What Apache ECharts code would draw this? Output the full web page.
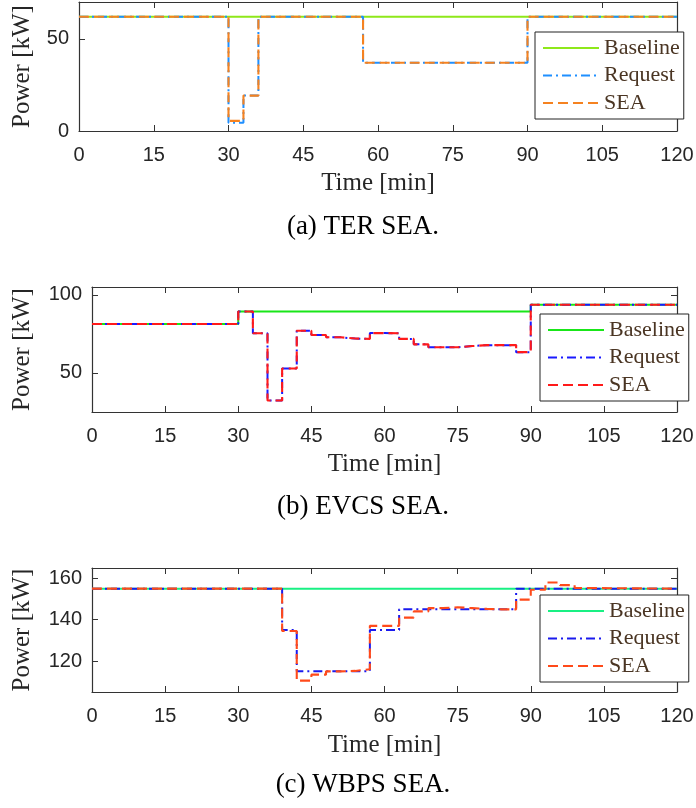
<!DOCTYPE html>
<html><head><meta charset="utf-8">
<script src="https://cdn.jsdelivr.net/npm/echarts@6/dist/echarts.min.js"></script>
<style>html,body{margin:0;padding:0;background:#fff}#c{width:696px;height:808px}</style>
</head><body><div id="c"></div>
<script>
// ---- data ----
const xTicks = [0, 15, 30, 45, 60, 75, 90, 105, 120];
const seriesNames = ['Baseline', 'Request', 'SEA'];
const captions = ['(a) TER SEA.', '(b) EVCS SEA.', '(c) WBPS SEA.'];
const xTitle = 'Time [min]';
const yTitle = 'Power [kW]';

// (a) TER
const timeA = [0, 30, 33, 36, 57, 90, 120];
const baseA = [62, 62, 62, 62, 62, 62, 62];
const reqA  = [62, 4.5, 19.2, 62, 37, 62, 62];
const seaA  = [62, 5.5, 19.2, 62, 37, 62, 62];
const yTicksA = [0, 50];
const yRangeA = [0, 70];

// (b) EVCS
const timeB = [0, 30, 33, 36, 39, 42, 45, 48, 51, 54, 57, 60, 63, 66, 69, 72, 75, 78, 81, 84, 87, 90, 120];
const baseB = [81.3, 89.3, 89.3, 89.3, 89.3, 89.3, 89.3, 89.3, 89.3, 89.3, 89.3, 89.3, 89.3, 89.3, 89.3, 89.3, 89.3, 89.3, 89.3, 89.3, 89.3, 93.6, 93.6];
const reqB  = [81.3, 89.3, 75.4, 32.4, 52.8, 77.0, 74.3, 72.8, 72.0, 71.8, 75.5, 75.4, 71.8, 68.3, 66.4, 66.4, 67.2, 67.8, 67.8, 67.8, 63.3, 93.6, 93.6];
const seaB  = [81.3, 89.3, 75.4, 32.4, 52.8, 77.0, 74.3, 72.8, 72.0, 71.8, 75.5, 75.4, 71.8, 68.3, 66.4, 66.4, 67.2, 67.8, 67.8, 67.8, 63.3, 93.6, 93.6];
const yTicksB = [50, 100];
const yRangeB = [25, 105];

// (c) WBPS
const timeC = [0, 39, 42, 45, 48, 51, 54, 57, 60, 63, 66, 69, 72, 75, 78, 81, 84, 87, 90, 93, 96, 99, 102, 120];
const baseC = [155, 155, 155, 155, 155, 155, 155, 155, 155, 155, 155, 155, 155, 155, 155, 155, 155, 155, 155, 155, 155, 155, 155, 155];
const reqC  = [155, 135, 115, 115, 115, 115, 115, 135, 135, 145, 145, 145, 145, 145, 145, 145, 145, 155, 155, 155, 155, 155, 155, 155];
const seaC  = [155, 134.5, 110.5, 113.4, 115, 115.2, 116, 137, 137, 141, 144, 145.6, 146, 145.6, 145.2, 145, 145, 149.7, 154.5, 158, 156.7, 155.3, 155, 155];
const yTicksC = [120, 140, 160];
const yRangeC = [105, 165];

// ---- layout / style ----
const SERIF = '"Liberation Serif", "Times New Roman", serif';
const SANS = '"Liberation Sans", Arial, sans-serif';
const AX = '#333333';
const panels = [
  { key: 'a', time: timeA, vals: [baseA, reqA, seaA], ticks: yTicksA, range: yRangeA,
    grid: { left: 79, top: 2, width: 598, height: 129 }, yGap: 44, xGap: 40,
    colors: ['#8ee81a', '#1f8fff', '#f58220'], legend: { left: 535, top: 32 }, capY: 227 },
  { key: 'b', time: timeB, vals: [baseB, reqB, seaB], ticks: yTicksB, range: yRangeB,
    grid: { left: 92, top: 287, width: 585, height: 125 }, yGap: 57, xGap: 40,
    colors: ['#19e619', '#1a1aff', '#ff1a1a'], legend: { left: 540, top: 314 }, capY: 507 },
  { key: 'c', time: timeC, vals: [baseC, reqC, seaC], ticks: yTicksC, range: yRangeC,
    grid: { left: 92, top: 568, width: 585, height: 124 }, yGap: 57, xGap: 41,
    colors: ['#19f083', '#1a1aee', '#ff4a1a'], legend: { left: 540, top: 595 }, capY: 785 }
];
const lineTypes = ['solid', [9, 4, 2, 4], [10, 5]];

const grid = [], xAxis = [], yAxis = [], series = [], legend = [], graphic = [];
panels.forEach((p, i) => {
  grid.push(Object.assign({ show: false, outerBoundsMode: 'none' }, p.grid));
  const tickStyle = { show: true, inside: true, length: 6, lineStyle: { color: AX, width: 1 } };
  xAxis.push({
    type: 'value', gridIndex: i, position: 'bottom', min: 0, max: 120, interval: 15,
    axisLine: { show: true, onZero: false, lineStyle: { color: AX, width: 1.2 } },
    axisTick: tickStyle, splitLine: { show: false },
    axisLabel: { show: true, margin: 14, fontSize: 20, fontFamily: SANS, color: '#262626',
      customValues: xTicks },
    name: xTitle, nameLocation: 'middle', nameGap: p.xGap, nameMoveOverlap: false,
    nameTextStyle: { fontSize: 25, fontFamily: SERIF, color: '#262626' }
  });
  xAxis.push({
    type: 'value', gridIndex: i, position: 'top', min: 0, max: 120, interval: 15,
    axisLine: { show: true, onZero: false, lineStyle: { color: AX, width: 1.2 } },
    axisTick: tickStyle, axisLabel: { show: false }, splitLine: { show: false }
  });
  yAxis.push({
    type: 'value', gridIndex: i, position: 'left', min: p.range[0], max: p.range[1],
    axisLine: { show: true, onZero: false, lineStyle: { color: AX, width: 1.2 } },
    axisTick: Object.assign({}, tickStyle, { customValues: p.ticks }), splitLine: { show: false },
    axisLabel: { show: true, margin: 10, fontSize: 20, fontFamily: SANS, color: '#262626',
      customValues: p.ticks },
    name: yTitle, nameLocation: 'middle', nameRotate: 90, nameGap: p.yGap, nameMoveOverlap: false,
    nameTextStyle: { fontSize: 25, fontFamily: SERIF, color: '#262626' }
  });
  yAxis.push({
    type: 'value', gridIndex: i, position: 'right', min: p.range[0], max: p.range[1],
    axisLine: { show: true, onZero: false, lineStyle: { color: AX, width: 1.2 } },
    axisTick: Object.assign({}, tickStyle, { customValues: p.ticks }),
    axisLabel: { show: false }, splitLine: { show: false }
  });
  seriesNames.forEach((n, k) => {
    series.push({
      name: p.key + '|' + n, type: 'line', step: 'end', symbol: 'none',
      xAxisIndex: 2 * i, yAxisIndex: 2 * i,
      data: p.time.map((t, j) => [t, p.vals[k][j]]),
      lineStyle: { color: p.colors[k], width: k === 2 ? 2.1 : 2, type: lineTypes[k] },
      itemStyle: { color: p.colors[k] },
      z: 2 + k, silent: true
    });
  });
  legend.push({
    orient: 'vertical', left: p.legend.left, top: p.legend.top,
    data: seriesNames.map(n => p.key + '|' + n),
    formatter: name => name.split('|')[1],
    itemStyle: { opacity: 0 },
    backgroundColor: '#ffffff', borderColor: '#222222', borderWidth: 1, borderRadius: 0,
    padding: [5, 4, 5, 7], itemWidth: 56, itemHeight: 14, itemGap: 5.5,
    selectedMode: false,
    textStyle: { fontSize: 22, lineHeight: 22, fontFamily: SERIF, color: '#4a3523' }
  });
  graphic.push({
    type: 'text', x: 363, y: p.capY, silent: true,
    style: { text: captions[i], fontSize: 27, fontFamily: SERIF, fill: '#000',
      textAlign: 'center', textVerticalAlign: 'middle' }
  });
});

const chart = echarts.init(document.getElementById('c'), null, { renderer: 'canvas' });
chart.setOption({
  animation: false, backgroundColor: '#ffffff',
  grid, xAxis, yAxis, series, legend, graphic
});
</script></body></html>
